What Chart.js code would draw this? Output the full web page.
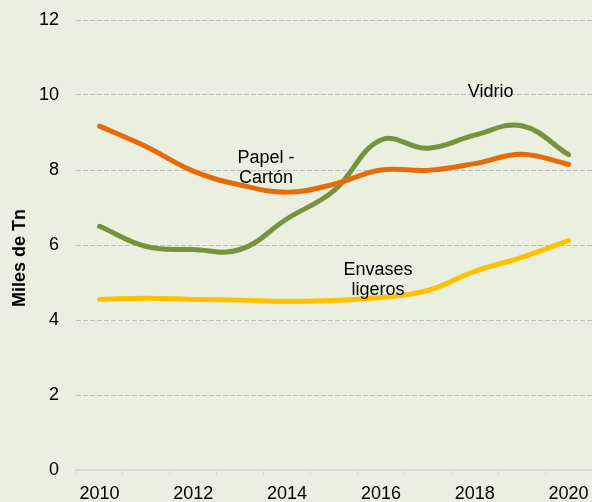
<!DOCTYPE html>
<html>
<head>
<meta charset="utf-8">
<script src="https://cdn.jsdelivr.net/npm/chart.js@4.4.1/dist/chart.umd.min.js"></script>
<style>
  html, body { margin: 0; padding: 0; background: #EBEFDF; }
  #wrap { width: 592px; height: 502px; }
</style>
</head>
<body>
<div id="wrap"><canvas id="myChart" width="592" height="502"></canvas></div>
<script>
// values (miles de toneladas)
const years = ['2010', '2011', '2012', '2013', '2014', '2015', '2016', '2017', '2018', '2019', '2020'];
const papelCarton = [9.17, 8.62, 7.97, 7.6, 7.41, 7.62, 8.0, 7.99, 8.17, 8.42, 8.15];
const vidrio = [6.5, 5.96, 5.88, 5.88, 6.7, 7.45, 8.8, 8.58, 8.93, 9.18, 8.41];
const envasesLigeros = [4.55, 4.58, 4.55, 4.53, 4.5, 4.52, 4.6, 4.79, 5.3, 5.67, 6.12];
const yTicks = [0, 2, 4, 6, 8, 10, 12];

const FONT = '"Liberation Sans", Arial, sans-serif';

// labels placed next to the lines, in data coordinates (x index, y value)
const lineLabels = [
    { lines: ['Papel -', 'Cartón'], x: 3.55, y: 8.33 },
    { lines: ['Vidrio'], x: 8.34, y: 10.07 },
    { lines: ['Envases', 'ligeros'], x: 5.94, y: 5.32 }
];

const labelPlugin = {
    id: 'lineLabels',
    afterDraw(chart) {
        const ctx = chart.ctx;
        const xs = chart.scales.x, ys = chart.scales.y;
        ctx.save();
        ctx.fillStyle = '#000';
        ctx.font = '18px ' + FONT;
        ctx.textAlign = 'center';
        ctx.textBaseline = 'middle';
        lineLabels.forEach(l => {
            const px = xs.getPixelForValue(l.x);
            const py = ys.getPixelForValue(l.y);
            l.lines.forEach((t, i) => ctx.fillText(t, px, py + i * 20));
        });
        // y axis title
        ctx.font = 'bold 18px ' + FONT;
        ctx.translate(20, 258);
        ctx.rotate(-Math.PI / 2);
        ctx.fillText('Miles de Tn', 0, 0);
        ctx.restore();
    }
};

function makeSet(label, data, color) {
    return {
        label: label,
        data: data,
        borderColor: color,
        backgroundColor: color,
        borderWidth: 5,
        borderCapStyle: 'round',
        pointRadius: 0,
        tension: 0.4,
        fill: false
    };
}

function noPad(scale) {
    scale.paddingTop = 0;
    scale.paddingBottom = 0;
    scale.paddingLeft = 0;
    scale.paddingRight = 0;
}

const ctx = document.getElementById('myChart').getContext('2d');
const myChart = new Chart(ctx, {
    type: 'line',
    data: {
        labels: years,
        datasets: [
            makeSet('Papel - Cartón', papelCarton, '#E46C0A'),
            makeSet('Vidrio', vidrio, '#77933C'),
            makeSet('Envases ligeros', envasesLigeros, '#FFC000')
        ]
    },
    options: {
        responsive: false,
        animation: false,
        layout: { padding: { top: 20, right: 0, bottom: 0, left: 0 } },
        plugins: {
            legend: { display: false },
            tooltip: { enabled: false }
        },
        scales: {
            x: {
                type: 'category',
                offset: true,
                grid: {
                    offset: true,
                    drawOnChartArea: false,
                    drawTicks: true,
                    tickLength: 5,
                    color: '#D9D9D9',
                    lineWidth: 1
                },
                border: { display: true, color: '#D9D9D9', width: 2 },
                ticks: {
                    autoSkip: false,
                    maxRotation: 0,
                    padding: 8,
                    color: '#000',
                    font: { family: FONT, size: 18 },
                    callback: function (val, i) { return i % 2 === 0 ? years[i] : ''; }
                },
                afterFit(scale) { noPad(scale); scale.height = 32; }
            },
            y: {
                min: 0,
                max: 12,
                afterBuildTicks(scale) { scale.ticks = yTicks.map(v => ({ value: v })); },
                grid: {
                    drawTicks: false,
                    color: '#BFBFBF',
                    lineWidth: 1
                },
                border: { display: false, dash: [5, 2] },
                ticks: {
                    padding: 17,
                    color: '#000',
                    font: { family: FONT, size: 18 }
                },
                afterFit(scale) { noPad(scale); scale.width = 76; }
            }
        }
    },
    plugins: [labelPlugin]
});
</script>
</body>
</html>
